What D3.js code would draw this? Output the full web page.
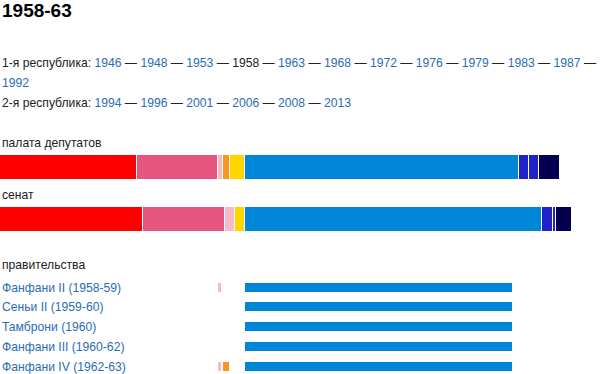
<!DOCTYPE html>
<html lang="ru">
<head>
<meta charset="utf-8">
<script src="https://cdn.jsdelivr.net/npm/d3@7/dist/d3.min.js"></script>
<style>
body{margin:0;background:#fff}
svg text{font-family:"Liberation Sans",Arial,sans-serif;font-size:12.15px;fill:#222}
svg text.link{fill:#2b6cb5}
svg text.title{font-size:19px;font-weight:bold;fill:#000}
</style>
</head>
<body>
<div id="chart"></div>
<script>
// page header + election links
const title="1958-63"
const currentYear="1958"
const rep1Label="1-я республика:"
const rep1Years=["1946","1948","1953","1958","1963","1968","1972","1976","1979","1983","1987","1992"]
const rep2Label="2-я республика:"
const rep2Years=["1994","1996","2001","2006","2008","2013"]

// parties, left to right
const parties=["PCI","PSI","PSDI","PRI","PLI","DC","PNM","PMP","MSI"]
const partyColors=["#ff0000","#e75480","#f6b9c9","#f5961e","#ffd500","#0086d6","#1f22c8","#1f22c8","#04004f"]
const chamberSeats=[137,81,5,7,15,274,10,10,21]
const senateSeats=[143,82,10,0,10,297,11,3,16]

// governments and the seats backing them
const govNames=["Фанфани II (1958-59)","Сеньи II (1959-60)","Тамброни (1960)","Фанфани III (1960-62)","Фанфани IV (1962-63)"]
const govSupport=[
  [0,0,4,0,0,268,0,0,0],
  [0,0,0,0,0,268,0,0,0],
  [0,0,0,0,0,268,0,0,0],
  [0,0,0,0,0,268,0,0,0],
  [0,0,4,7,0,268,0,0,0]
]

const W=600,H=374
const svg=d3.select("#chart").append("svg").attr("width",W).attr("height",H)
const x=d3.scaleLinear().domain([0,600]).range([0,W]) // ~1 seat per px

svg.append("text").attr("class","title").attr("x",2).attr("y",17).text(title)

// word-wrapped line of links, like the browser does it
function linkLine(label,years,y0){
  let words=[]
  label.split(" ").forEach(w=>words.push({t:w,link:false}))
  years.forEach((yr,i)=>{
    words.push({t:yr,link:yr!=currentYear})
    if(i<years.length-1) words.push({t:"—",link:false})
  })
  let tmp=svg.append("text").text("a a"),wa=tmp.node().getComputedTextLength()
  tmp.text("aa");let space=wa-tmp.node().getComputedTextLength();tmp.remove()
  let cx=2,cy=y0
  words.forEach(w=>{
    let t=svg.append("text").attr("class",w.link?"link":null).attr("y",cy).text(w.t)
    let len=t.node().getComputedTextLength()
    if(cx+len>W && cx>2){cx=2;cy+=20;t.attr("y",cy)}
    t.attr("x",cx)
    cx+=len+space
  })
  return cy
}
let lastY=linkLine(rep1Label,rep1Years,67)
linkLine(rep2Label,rep2Years,lastY+20)

const starts=d3.cumsum([0].concat(chamberSeats.slice(0,-1)))

function stackBar(values,y,h){
  let st=d3.cumsum([0].concat(values.slice(0,-1)))
  let data=values.map((v,i)=>({v:v,i:i,s:st[i]})).filter(d=>d.v>0)
  svg.append("g").selectAll("rect").data(data).enter().append("rect")
    .attr("x",d=>x(d.s)).attr("y",y)
    .attr("width",d=>x(d.s+d.v)-x(d.s)-1).attr("height",h)
    .style("fill",d=>partyColors[d.i])
}

svg.append("text").attr("x",2).attr("y",147).text("палата депутатов")
stackBar(chamberSeats,155,24)
svg.append("text").attr("x",2).attr("y",199).text("сенат")
stackBar(senateSeats,207,24)

svg.append("text").attr("x",2).attr("y",269).text("правительства")
const rowY=i=>Math.round(282.6+i*19.8)
govNames.forEach((g,r)=>{
  svg.append("text").attr("class","link").attr("x",2).attr("y",rowY(r)+8.5).text(g)
  let data=govSupport[r].map((v,i)=>({v:v,i:i,s:starts[i]})).filter(d=>d.v>0)
  svg.append("g").selectAll("rect").data(data).enter().append("rect")
    .attr("x",d=>x(d.s)).attr("y",rowY(r))
    .attr("width",d=>x(d.s+d.v)-x(d.s)-1).attr("height",9)
    .style("fill",d=>partyColors[d.i])
})
</script>
</body>
</html>
